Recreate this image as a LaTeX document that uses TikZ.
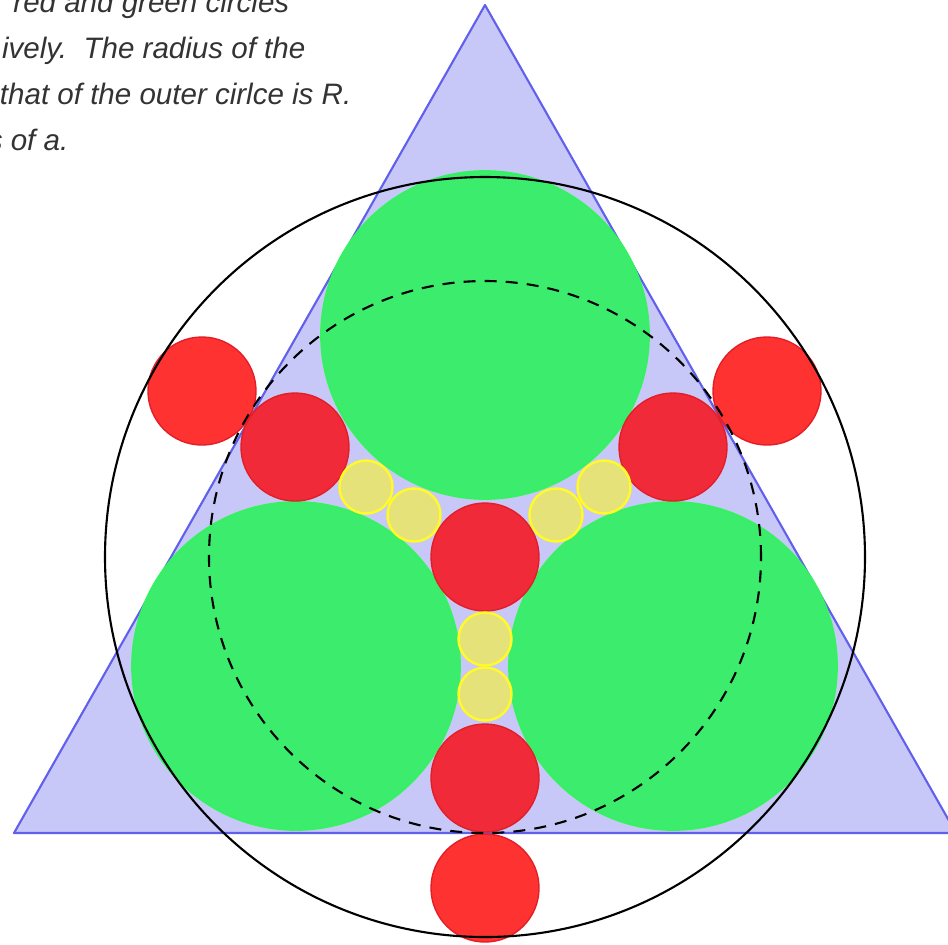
\documentclass[tikz,border=0pt]{standalone}
\usepackage{fontspec}
\setmainfont{Liberation Sans}
\usetikzlibrary{positioning}

\definecolor{trifill}{RGB}{200,200,248}
\definecolor{triline}{RGB}{96,96,236}
\definecolor{discgreen}{RGB}{60,236,108}
\definecolor{edgegreen}{RGB}{52,242,96}
\definecolor{discred}{RGB}{255,50,50}
\definecolor{innerred}{RGB}{240,42,56}
\definecolor{edgered}{RGB}{226,30,40}
\definecolor{discyellow}{RGB}{229,226,122}
\definecolor{edgeyellow}{RGB}{255,250,40}
\definecolor{notegray}{RGB}{51,51,51}

\begin{document}
\begin{tikzpicture}[x=0.01cm, y=0.01cm,
  greendisc/.style={fill=discgreen, draw=edgegreen, line width=0.5pt},
  reddisc/.style={fill=discred, draw=edgered, line width=0.4pt},
  innerdisc/.style={fill=innerred, draw=edgered, line width=0.4pt},
  yellowdisc/.style={fill=discyellow, draw=edgeyellow, line width=0.7pt},
  note/.style={anchor=base east, inner sep=0pt, text=notegray,
    font=\fontsize{8.4}{13}\selectfont\itshape}]
  \useasboundingbox (0,0) rectangle (948,-944);

  % the triangle
  \coordinate (apex) at (485,-5);
  \coordinate (left) at (14,-833);
  \coordinate (right) at (956,-833);
  \filldraw[fill=trifill, draw=triline, line width=0.6pt, line join=round]
    (apex) -- (left) -- (right) -- cycle;

  % centre of the circles
  \coordinate (mid) at (485,-557);

  % green circles
  \fill[greendisc] (485,-335) circle (164);
  \fill[greendisc] (296,-666) circle (164);
  \fill[greendisc] (673,-666) circle (164);

  % red circles inside the triangle
  \filldraw[innerdisc] (mid) circle (54);
  \filldraw[innerdisc] (295,-447) circle (54);
  \filldraw[innerdisc] (673,-447) circle (54);
  \filldraw[innerdisc] (485,-778) circle (54);

  % red circles outside the triangle
  \filldraw[reddisc] (202,-391) circle (54);
  \filldraw[reddisc] (767,-391) circle (54);
  \filldraw[reddisc] (485,-888) circle (54);

  % yellow circles
  \foreach \cx/\cy in {366/487, 414/515, 556/515, 604/487, 485/639, 485/694}
    \filldraw[yellowdisc] (\cx,-\cy) circle (26.5);

  % outer and inner circle
  \draw[line width=0.6pt] (mid) circle (380);
  \draw[line width=0.6pt, dash pattern=on 3.4pt off 2.6pt] (mid) circle (276);

  % the text, cut by the left edge
  \node[note] (lineone) at (290,-12) {red and green circles};
  \node[note] (linetwo) at (306,-58) {ively.\ \ The radius of the};
  \node[note] (linethree) at (352,-104) {that of the outer cirlce is R.};
  \node[note] (linefour) at (69,-150) {s of a.};
\end{tikzpicture}
\end{document}
